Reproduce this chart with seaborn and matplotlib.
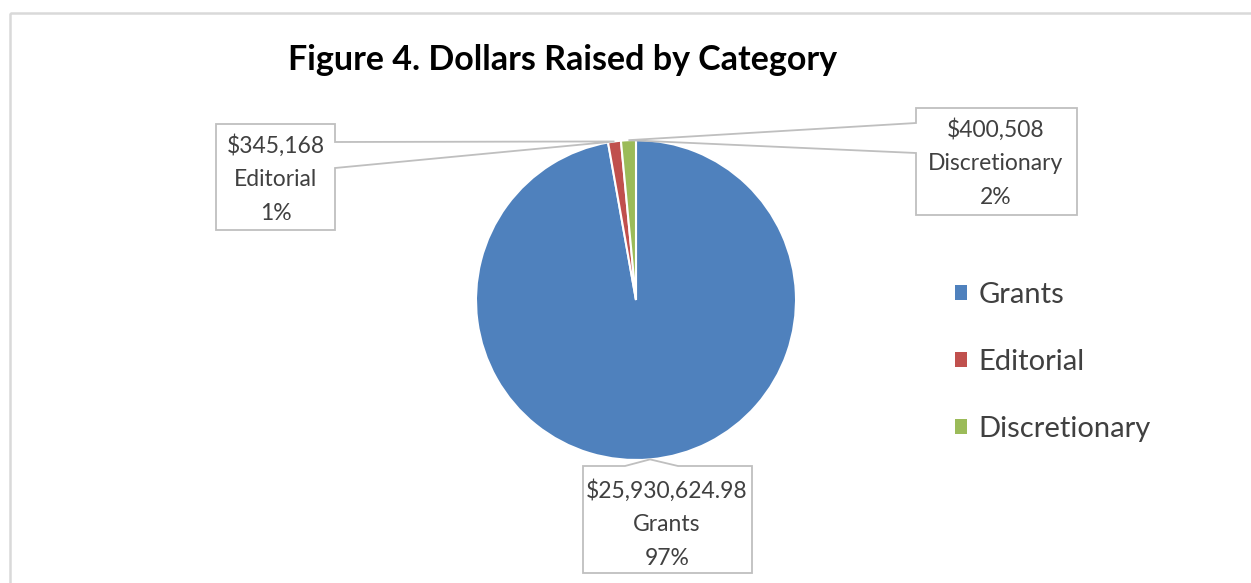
import numpy as np
import matplotlib
matplotlib.use("Agg")
import matplotlib.pyplot as plt
from matplotlib.patches import Polygon, Rectangle
from matplotlib.transforms import Affine2D
import seaborn as sns

# ---- data ----
categories = ["Grants", "Editorial", "Discretionary"]
values = [25930624.98, 345168, 400508]
value_labels = ["$25,930,624.98", "$345,168", "$400,508"]
colors = ["#4F81BD", "#C0504D", "#9BBB59"]
title = "Figure 4. Dollars Raised by Category"

sns.set_theme(style="white")
plt.rcParams["font.family"] = ["Lato", "DejaVu Sans"]

W, H = 1251, 583
fig = plt.figure(figsize=(W / 100, H / 100), dpi=100)
fig.patch.set_facecolor("white")

# transform in image pixels, origin at top-left
pix = Affine2D().scale(1 / W, -1 / H).translate(0, 1) + fig.transFigure

# chart border
fig.add_artist(Rectangle((10, 13), 1300, 620, transform=pix, fill=False,
                         edgecolor="#d9d9d9", linewidth=1.8))

# pie axes (center 636,300 radius 160 px)
cx, cy, r = 636, 300, 160
ax = fig.add_axes([(cx - r) / W, (H - cy - r) / H, 2 * r / W, 2 * r / H])
pal = sns.color_palette(colors)
wedges, _ = ax.pie(values, colors=pal, startangle=90, counterclock=False,
                   wedgeprops=dict(edgecolor="white", linewidth=1.5))
ax.set_xlim(-1, 1)
ax.set_ylim(-1, 1)
ax.set_aspect("equal")
ax.axis("off")

total = sum(values)
pcts = [f"{round(v / total * 100):d}%" for v in values]


def tip_of(i):
    w = wedges[i]
    mid = np.deg2rad((w.theta1 + w.theta2) / 2)
    dx, dy = ax.transData.transform((np.cos(mid), np.sin(mid)))
    return (dx, H - dy)


# callout geometries (image pixels)
box_specs = {
    1: dict(box=(216, 124, 335, 230), side="right", base=(142, 168), text=(276, 179)),
    2: dict(box=(916, 108, 1077, 215), side="left", base=(123, 153), text=(996, 163)),
    0: dict(box=(583, 466, 752, 573), side="top", base=(625, 678), text=(667, 524)),
}

for i, spec in box_specs.items():
    x0, y0, x1, y1 = spec["box"]
    t = tip_of(i)
    b0, b1 = spec["base"]
    if spec["side"] == "right":
        pts = [(x0, y0), (x1, y0), (x1, b0), t, (x1, b1), (x1, y1), (x0, y1)]
    elif spec["side"] == "left":
        pts = [(x0, y0), (x1, y0), (x1, y1), (x0, y1), (x0, b1), t, (x0, b0)]
    else:
        pts = [(x0, y0), (b0, y0), t, (b1, y0), (x1, y0), (x1, y1), (x0, y1)]
    fig.add_artist(Polygon(pts, closed=True, transform=pix, facecolor="white",
                           edgecolor="#bfbfbf", linewidth=1.3, zorder=5))
    tx, ty = spec["text"]
    fig.text(tx, ty, f"{value_labels[i]}\n{categories[i]}\n{pcts[i]}",
             transform=pix, ha="center", va="center", fontsize=16.5,
             linespacing=1.72, color="#404040", zorder=6)

# title
fig.text(563, 60, title, transform=pix, ha="center", va="center",
         fontsize=24.5, fontweight="bold", color="black")

# legend
leg = fig.legend(wedges, categories, loc="center left",
                 bbox_to_anchor=(955 / W, 1 - 362 / H), frameon=False,
                 fontsize=21, handlelength=0.4, handleheight=0.4,
                 handletextpad=0.4, labelspacing=1.4, borderaxespad=0,
                 borderpad=0)
for txt in leg.get_texts():
    txt.set_color("#404040")
for h in leg.legend_handles:
    h.set_edgecolor("none")

fig.savefig("out.png", dpi=100, facecolor="white")
